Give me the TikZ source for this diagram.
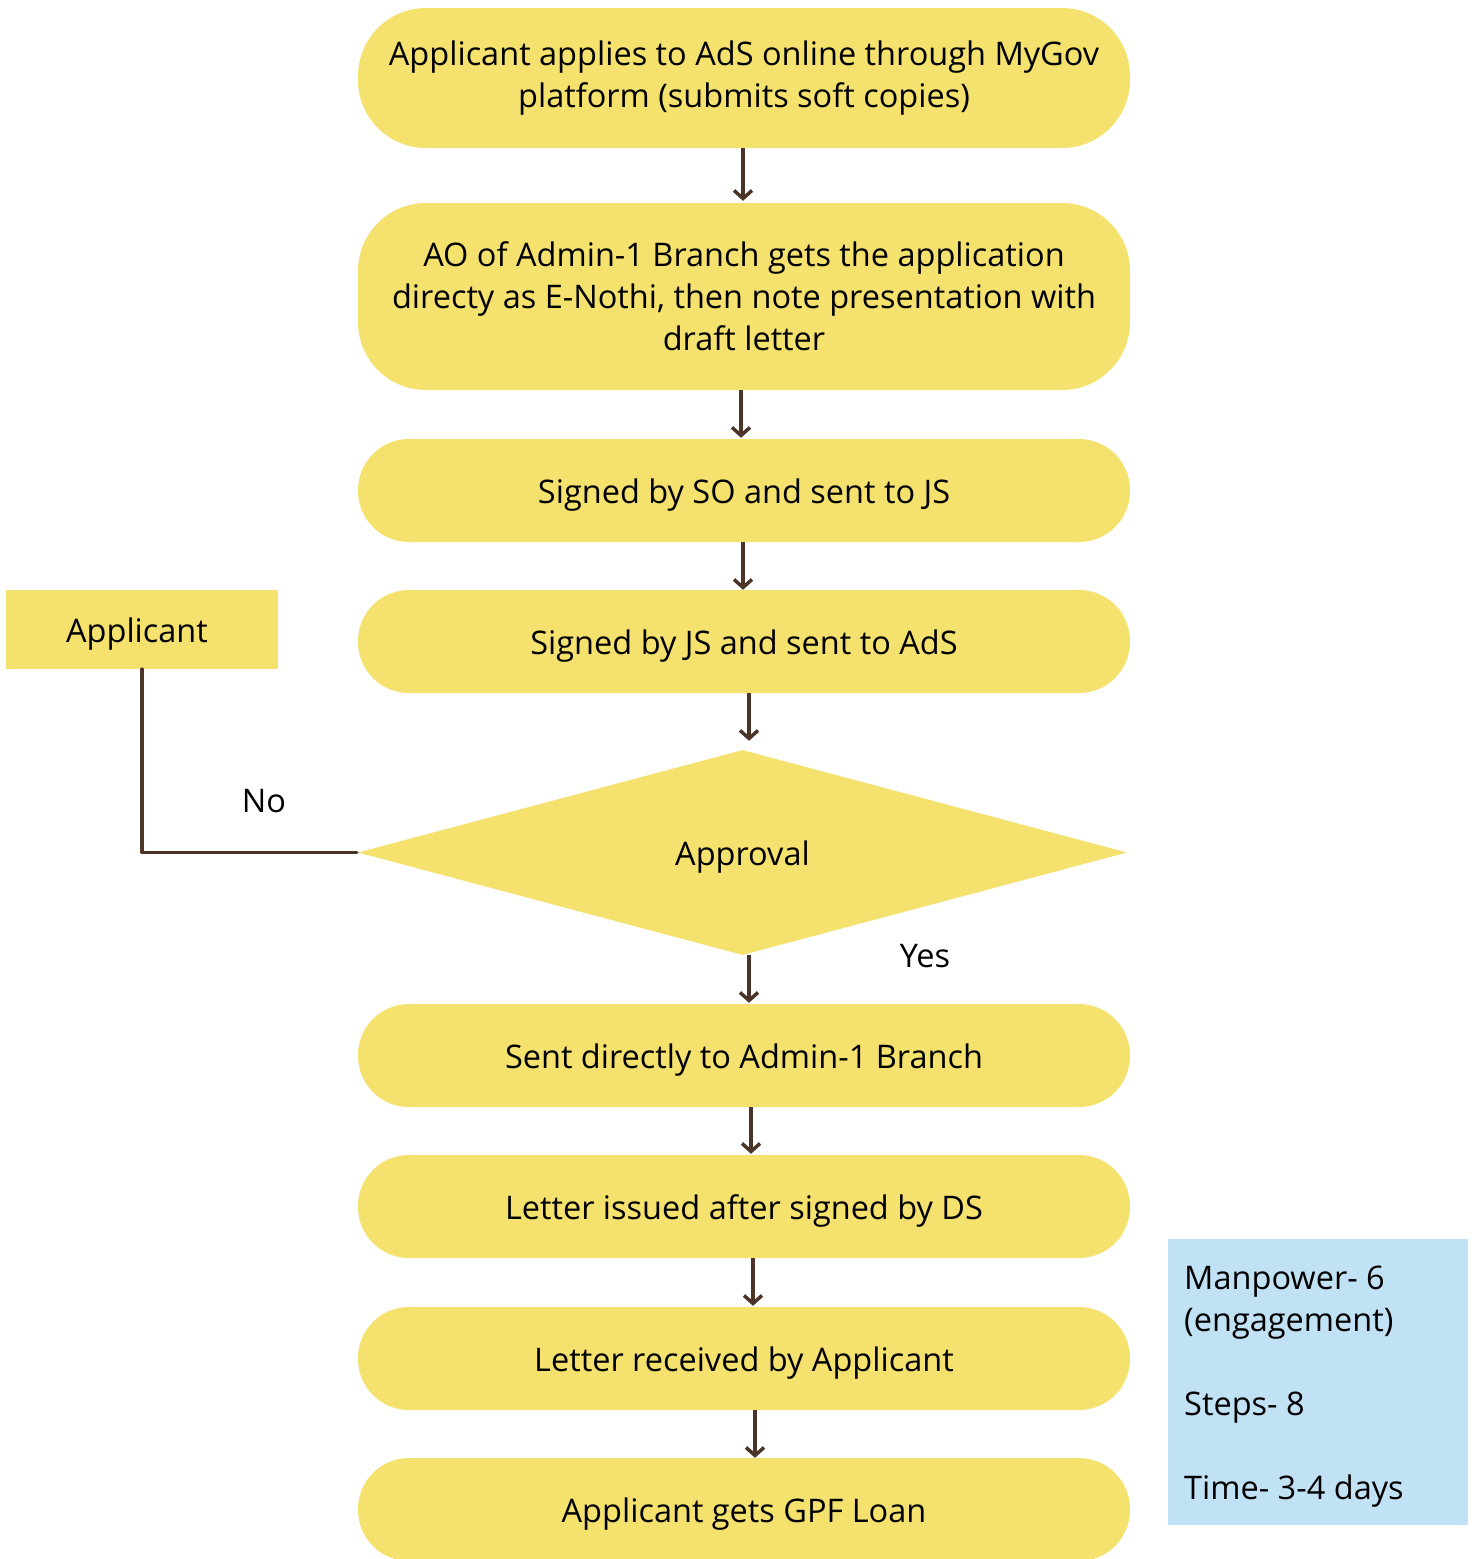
\documentclass[tikz,border=0pt]{standalone}
\usepackage{fontspec}
\setmainfont{Open Sans}
\usetikzlibrary{arrows.meta,shapes.geometric}
\definecolor{boxyellow}{RGB}{244,225,110}
\definecolor{infoblue}{RGB}{193,225,244}
\definecolor{arrowbrown}{RGB}{75,52,40}
\tikzset{
  pill/.style={fill=boxyellow, draw=none, minimum width=772pt, align=center, inner sep=0pt,
    font=\fontsize{32.5}{42}\selectfont},
  oneline/.style={text height=31pt, text depth=6pt},
  arr/.style={draw=arrowbrown, line width=3.5pt, -{Straight Barb[length=8pt,width=18pt,line width=3.5pt]}},
  conn/.style={draw=arrowbrown, line width=3.5pt, line cap=round, line join=round},
  lbl/.style={font=\fontsize{32.5}{42}\selectfont, inner sep=0pt}
}
\begin{document}
\begin{tikzpicture}[x=1pt,y=-1pt]
\useasboundingbox (0,0) rectangle (1475,1559);
\node[pill, minimum height=140pt, rounded corners=68pt] (b1) at (744,78)
  {Applicant applies to AdS online through MyGov\\platform (submits soft copies)};
\node[pill, minimum height=187pt, rounded corners=68pt] (b2) at (744,296.5)
  {AO of Admin-1 Branch gets the application\\directy as E-Nothi, then note presentation with\\draft letter};
\node[pill, oneline, minimum height=103pt, rounded corners=51pt] (b3) at (744,490.5) {Signed by SO and sent to JS};
\node[pill, oneline, minimum height=103pt, rounded corners=51pt] (b4) at (744,641.5) {Signed by JS and sent to AdS};
\node[diamond, oneline, fill=boxyellow, minimum width=769pt, minimum height=205pt, inner sep=0pt,
  font=\fontsize{32.5}{42}\selectfont] (d) at (742.5,852.5) {Approval};
\node[pill, oneline, minimum height=103pt, rounded corners=51pt] (b5) at (744,1055.5) {Sent directly to Admin-1 Branch};
\node[pill, oneline, minimum height=103pt, rounded corners=51pt] (b6) at (744,1206.5) {Letter issued after signed by DS};
\node[pill, oneline, minimum height=103pt, rounded corners=51pt] (b7) at (744,1358.5) {Letter received by Applicant};
\node[pill, oneline, minimum height=103pt, rounded corners=51pt] (b8) at (744,1509.5) {Applicant gets GPF Loan};
\node[oneline, fill=boxyellow, minimum width=272pt, minimum height=79pt, inner sep=0pt,
  font=\fontsize{32.5}{42}\selectfont] (app) at (142,629.5) {\hspace*{-10pt}Applicant};
\node[fill=infoblue, minimum width=300pt, minimum height=286pt, inner sep=0pt] (info) at (1318,1382) {};
\node[lbl, anchor=north west, align=left] (infotext) at (1184,1266)
  {Manpower- 6\\(engagement)\\[42pt]Steps- 8\\[42pt]Time- 3-4 days};
\draw[arr] ([xshift=-1pt]b1.south) -- ([xshift=-1pt,yshift=2pt]b2.north);
\draw[arr] ([xshift=-3pt]b2.south) -- ([xshift=-3pt,yshift=1pt]b3.north);
\draw[arr] ([xshift=-1pt]b3.south) -- ([xshift=-1pt]b4.north);
\draw[arr] ([xshift=5pt]b4.south) -- ([xshift=6.5pt,yshift=9pt]d.north);
\draw[arr] ([xshift=6.5pt]d.south) -- ([xshift=5pt,yshift=1pt]b5.north);
\draw[arr] ([xshift=7pt]b5.south) -- ([xshift=7pt,yshift=1pt]b6.north);
\draw[arr] ([xshift=9pt]b6.south) -- ([xshift=9pt,yshift=1pt]b7.north);
\draw[arr] ([xshift=11pt]b7.south) -- ([xshift=11pt]b8.north);
\draw[conn] (app.south) -- (app.south |- d.west) -- ([xshift=-1pt]d.west);
\node[lbl] (nolbl) at (264,801) {No};
\node[lbl] (yeslbl) at (925,956) {Yes};
\end{tikzpicture}
\end{document}
